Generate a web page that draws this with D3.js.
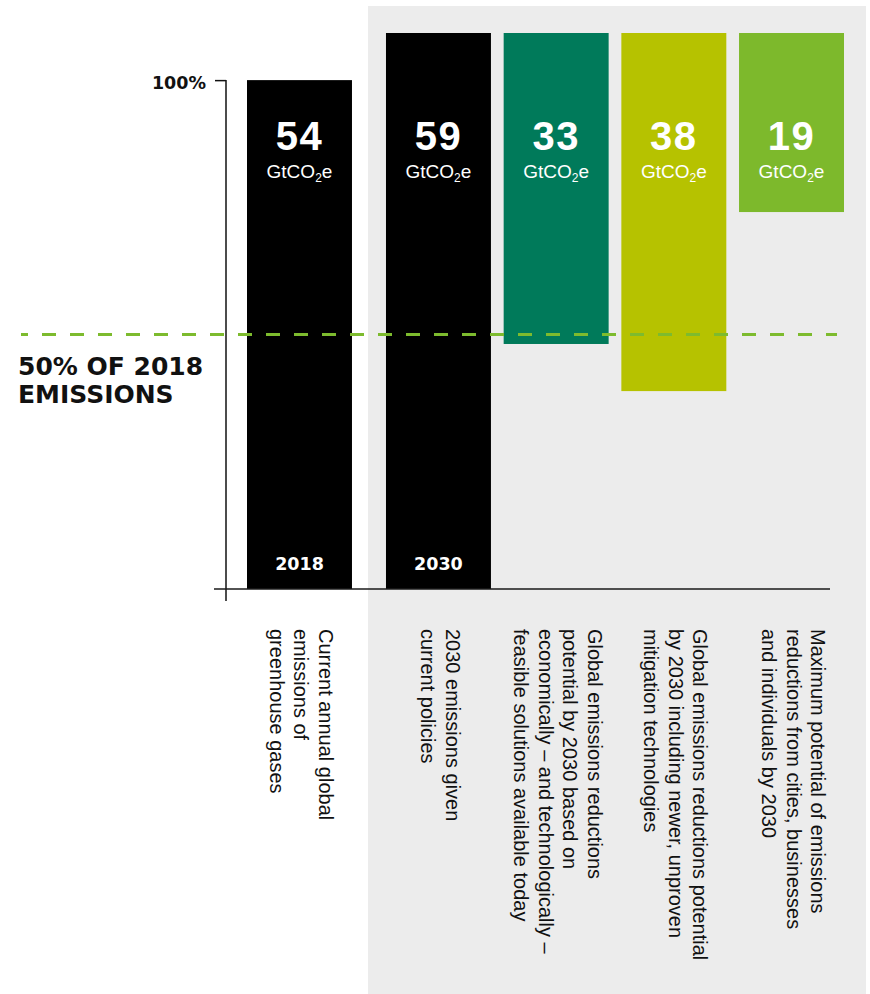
<!DOCTYPE html>
<html>
<head>
<meta charset="utf-8">
<script src="https://cdn.jsdelivr.net/npm/d3@7/dist/d3.min.js"></script>
<style>
  html, body { margin: 0; padding: 0; background: #ffffff; }
  svg { display: block; }
</style>
</head>
<body>
<svg id="chart" width="870" height="994"></svg>
<script>
// ---- Data ----
const categories = ["current", "2030", "feasible", "newer", "cities"];
const values = [54, 59, 33, 38, 19];
const barKinds = ["total", "total", "reduction", "reduction", "reduction"];
const groups = ["now", "2030", "2030", "2030", "2030"];
const yearLabels = ["2018", "2030", "", "", ""];
const barColors = ["#000000", "#000000", "#007A5A", "#B6C200", "#7DB92C"];
const descriptions = [
  ["Current annual global", "emissions of", "greenhouse gases"],
  ["2030 emissions given", "current policies"],
  ["Global emissions reductions", "potential by 2030 based on", "economically \u2013 and technologically \u2013", "feasible solutions available today"],
  ["Global emissions reductions potential", "by 2030 including newer, unproven", "mitigation technologies"],
  ["Maximum potential of emissions", "reductions from cities, businesses", "and individuals by 2030"]
];
const unitParts = ["GtCO", "2", "e"];
const axisTickValues = [54];
const axisTickLabels = ["100%"];
const thresholdValue = 27;            // 50% of 2018 emissions
const thresholdLabel = ["50% OF 2018", "EMISSIONS"];

// ---- Layout ----
const svg = d3.select("#chart");
const baselineY = 589;
const topY = 33;
const y = d3.scaleLinear().domain([0, d3.max(values)]).range([baselineY, topY]);
const x = d3.scaleBand().domain(categories).range([268.3, 844]).paddingInner(0.108);
const groupShift = { "now": -21.3, "2030": 0 };
const bw = x.bandwidth();
const bx = (c, i) => x(c) + groupShift[groups[i]];
const cx = (c, i) => bx(c, i) + bw / 2;
const totalRef = values[1];

// gray panel behind the 2030 group
const firstIdx = groups.indexOf("2030");
svg.append("rect")
  .attr("x", bx(categories[firstIdx], firstIdx) - 18)
  .attr("y", y(totalRef) - 27)
  .attr("width", (x(categories[4]) + bw + 22) - (bx(categories[firstIdx], firstIdx) - 18))
  .attr("height", 994)
  .attr("fill", "#ECECEC");

// bars
svg.selectAll("rect.bar")
  .data(categories)
  .join("rect")
  .attr("class", "bar")
  .attr("x", (c, i) => bx(c, i))
  .attr("width", bw)
  .attr("y", (c, i) => barKinds[i] === "total" ? y(values[i]) : y(totalRef))
  .attr("height", (c, i) => barKinds[i] === "total" ? y(0) - y(values[i]) : y(totalRef - values[i]) - y(totalRef))
  .attr("fill", (c, i) => barColors[i]);

// axis line (vertical) and baseline
svg.append("line")
  .attr("x1", 226).attr("x2", 226)
  .attr("y1", y(axisTickValues[0])).attr("y2", y(0) + 12)
  .attr("stroke", "#111").attr("stroke-width", 1.5);
svg.append("line")
  .attr("x1", 214).attr("x2", x(categories[4]) + bw - 14)
  .attr("y1", y(0)).attr("y2", y(0))
  .attr("stroke", "#1a1a1a").attr("stroke-width", 1.6);

// y axis tick + label
const yAxis = d3.axisLeft(y)
  .tickValues(axisTickValues)
  .tickFormat((d, i) => axisTickLabels[i])
  .tickSize(11)
  .tickPadding(9);
const gAxis = svg.append("g").attr("transform", "translate(226,0)").call(yAxis);
gAxis.select(".domain").remove();
gAxis.selectAll(".tick line").attr("stroke", "#111").attr("stroke-width", 1.5);
gAxis.selectAll(".tick text")
  .attr("fill", "#111")
  .attr("dy", "0.5em")
  .style("font-family", "'DejaVu Sans', sans-serif")
  .style("font-weight", "bold")
  .style("font-size", "17.5px");

// value labels
const valueY = y(totalRef) + 117;
svg.selectAll("text.val")
  .data(categories)
  .join("text")
  .attr("class", "val")
  .attr("x", (c, i) => cx(c, i))
  .attr("y", valueY)
  .attr("text-anchor", "middle")
  .attr("fill", "#fff")
  .style("font-family", "'Liberation Sans', Arial, sans-serif")
  .style("font-weight", "bold")
  .style("font-size", "40px")
  .style("letter-spacing", "1.5px")
  .text((c, i) => values[i]);

const unitText = svg.selectAll("text.unit")
  .data(categories)
  .join("text")
  .attr("class", "unit")
  .attr("x", (c, i) => cx(c, i))
  .attr("y", valueY + 28)
  .attr("text-anchor", "middle")
  .attr("fill", "#fff")
  .style("font-family", "'Liberation Sans', Arial, sans-serif")
  .style("font-size", "19px");
unitText.append("tspan").text(unitParts[0]);
unitText.append("tspan").attr("dy", 4).style("font-size", "12px").text(unitParts[1]);
unitText.append("tspan").attr("dy", -4).text(unitParts[2]);

// year labels inside bars
svg.selectAll("text.year")
  .data(categories)
  .join("text")
  .attr("class", "year")
  .attr("x", (c, i) => cx(c, i))
  .attr("y", y(0) - 19.5)
  .attr("text-anchor", "middle")
  .attr("fill", "#fff")
  .style("font-family", "'DejaVu Sans', sans-serif")
  .style("font-weight", "bold")
  .style("font-size", "17.5px")
  .text((c, i) => yearLabels[i]);

// threshold dashed line (on top of bars)
svg.append("line")
  .attr("x1", 21).attr("x2", 837)
  .attr("y1", y(thresholdValue)).attr("y2", y(thresholdValue))
  .attr("stroke", "#7DBB2E")
  .attr("stroke-width", 3)
  .attr("stroke-dasharray", "14,14")
  .attr("stroke-dashoffset", 7);

const thr = svg.append("text")
  .attr("x", 18)
  .attr("y", y(thresholdValue) + 40.5)
  .attr("fill", "#111")
  .style("font-family", "'DejaVu Sans', sans-serif")
  .style("font-weight", "bold")
  .style("font-size", "25px");
thr.selectAll("tspan")
  .data(thresholdLabel)
  .join("tspan")
  .attr("x", 18)
  .attr("dy", (d, i) => i === 0 ? 0 : 28.3)
  .text(d => d);

// rotated descriptions
const lineH = 24.5;
const descTop = y(0) + 40;
categories.forEach((c, i) => {
  const lines = descriptions[i];
  const firstBase = cx(c, i) - 5 + (lines.length - 1) * lineH / 2;
  const t = svg.append("text")
    .attr("transform", `translate(${firstBase},${descTop}) rotate(90)`)
    .attr("fill", "#111")
    .style("font-family", "'Liberation Sans', Arial, sans-serif")
    .style("font-size", "20px");
  t.selectAll("tspan")
    .data(lines)
    .join("tspan")
    .attr("x", 0)
    .attr("dy", (d, j) => j === 0 ? 0 : lineH)
    .text(d => d);
});
</script>
</body>
</html>
